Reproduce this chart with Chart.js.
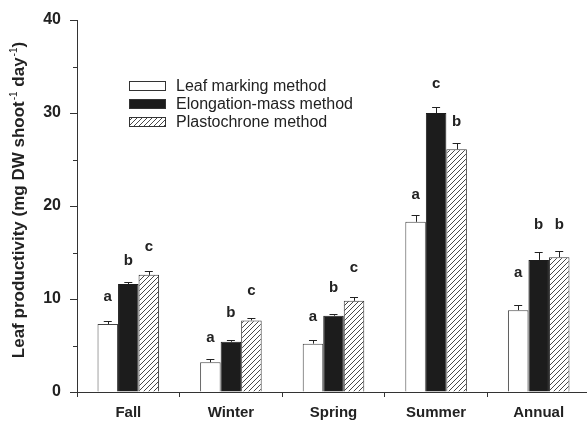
<!DOCTYPE html>
<html>
<head>
<meta charset="utf-8">
<script src="https://cdn.jsdelivr.net/npm/chart.js@4"></script>
<style>
    html, body { margin: 0; padding: 0; background: #fff; overflow: hidden; }
</style>
</head>
<body>
<canvas id="myChart" width="600" height="424"></canvas>
<script>
// data
const categories = ["Fall", "Winter", "Spring", "Summer", "Annual"];
const seriesNames = ["Leaf marking method", "Elongation-mass method", "Plastochrone method"];

const leafMarking = [7.3, 3.2, 5.2, 18.3, 8.8];
const leafMarkingErr = [0.3, 0.3, 0.35, 0.7, 0.6];
const elongationMass = [11.6, 5.4, 8.2, 30.0, 14.2];
const elongationMassErr = [0.2, 0.2, 0.2, 0.6, 0.9];
const plastochrone = [12.6, 7.7, 9.8, 26.1, 14.5];
const plastochroneErr = [0.4, 0.3, 0.4, 0.7, 0.7];

// significance letters and the value they sit at
const leafMarkingLetters = ["a", "a", "a", "a", "a"];
const elongationMassLetters = ["b", "b", "b", "c", "b"];
const plastochroneLetters = ["c", "c", "c", "b", "b"];
const leafMarkingLetterAt = [10.2, 5.8, 8.1, 21.2, 12.8];
const elongationMassLetterAt = [14.1, 8.5, 11.2, 33.1, 18.0];
const plastochroneLetterAt = [15.6, 10.9, 13.3, 29.0, 18.0];

const yMin = 0, yMax = 40, yStep = 10;
const yMinorTicks = [5, 15, 25, 35];

const ink = "#222";
const canvas = document.getElementById("myChart");
const ctx = canvas.getContext("2d");

// diagonal hatch
const makeHatch = () => {
    const t = document.createElement("canvas");
    t.width = 5; t.height = 5;
    const g = t.getContext("2d");
    g.fillStyle = "#fff";
    g.fillRect(0, 0, 5, 5);
    g.strokeStyle = "#333";
    g.lineWidth = 0.9;
    g.beginPath();
    g.moveTo(-1, 6); g.lineTo(6, -1);
    g.moveTo(-1, 1); g.lineTo(1, -1);
    g.moveTo(4, 6); g.lineTo(6, 4);
    g.stroke();
    return ctx.createPattern(t, "repeat");
};
const hatch = makeHatch();

// error bars + letters
const extrasPlugin = {
    id: "extras",
    afterDatasetsDraw(chart) {
        const c = chart.ctx;
        const yScale = chart.scales.y;
        c.save();
        chart.data.datasets.forEach((ds, i) => {
            const meta = chart.getDatasetMeta(i);
            meta.data.forEach((bar, j) => {
                const yTop = bar.y;
                const yErr = yScale.getPixelForValue(ds.data[j] + ds.errors[j]);
                c.strokeStyle = ink;
                c.lineWidth = 1;
                c.beginPath();
                c.moveTo(Math.round(bar.x) + 0.5, yTop);
                c.lineTo(Math.round(bar.x) + 0.5, Math.round(yErr) + 0.5);
                c.moveTo(bar.x - 4, Math.round(yErr) + 0.5);
                c.lineTo(bar.x + 4, Math.round(yErr) + 0.5);
                c.stroke();

                c.fillStyle = ink;
                c.font = "bold 15px 'Liberation Sans', Arial, sans-serif";
                c.textAlign = "center";
                c.textBaseline = "middle";
                c.fillText(ds.letters[j], bar.x, yScale.getPixelForValue(ds.letterAt[j]));
            });
        });
        c.restore();
    },
    afterDraw(chart) {
        const c = chart.ctx;
        const yScale = chart.scales.y;
        const left = chart.chartArea.left;
        c.save();
        // minor y ticks
        c.strokeStyle = "#333";
        c.lineWidth = 1;
        c.beginPath();
        yMinorTicks.forEach((v) => {
            const y = Math.round(yScale.getPixelForValue(v)) + 0.5;
            c.moveTo(left - 4, y);
            c.lineTo(left, y);
        });
        c.stroke();

        // y title with superscripts
        const parts = [
            ["Leaf productivity (mg DW shoot", false],
            ["-1", true],
            [" day", false],
            ["-1", true],
            [")", false],
        ];
        const bigFont = "bold 17px 'Liberation Sans', Arial, sans-serif";
        const supFont = "10px 'Liberation Sans', Arial, sans-serif";
        let total = 0;
        parts.forEach(([t, sup]) => {
            c.font = sup ? supFont : bigFont;
            total += c.measureText(t).width + (sup ? 1 : 0);
        });
        c.translate(19, 200);
        c.rotate(-Math.PI / 2);
        c.fillStyle = ink;
        c.textAlign = "left";
        c.textBaseline = "middle";
        let x = -total / 2;
        parts.forEach(([t, sup]) => {
            c.font = sup ? supFont : bigFont;
            c.fillText(t, x + (sup ? 1 : 0), sup ? -5 : 0);
            x += c.measureText(t).width + (sup ? 1 : 0);
        });
        c.restore();

        // legend
        c.save();
        const lx = 129, ly = 81, rowH = 18, bw = 37, bh = 10;
        chart.data.datasets.forEach((ds, i) => {
            const y = ly + i * rowH;
            c.fillStyle = ds.backgroundColor;
            c.fillRect(lx, y, bw, bh);
            c.strokeStyle = "#333";
            c.lineWidth = 1;
            c.strokeRect(lx + 0.5, y + 0.5, bw - 1, bh - 1);
            c.fillStyle = ink;
            c.font = "16px 'Liberation Sans', Arial, sans-serif";
            c.textAlign = "left";
            c.textBaseline = "middle";
            c.fillText(ds.label, lx + bw + 10, y + bh / 2 + 1);
        });
        c.restore();
    },
};

new Chart(ctx, {
    type: "bar",
    data: {
        labels: categories,
        datasets: [
            {
                label: seriesNames[0],
                data: leafMarking,
                errors: leafMarkingErr,
                letters: leafMarkingLetters,
                letterAt: leafMarkingLetterAt,
                backgroundColor: "#ffffff",
                borderColor: "#444",
                borderWidth: 1,
            },
            {
                label: seriesNames[1],
                data: elongationMass,
                errors: elongationMassErr,
                letters: elongationMassLetters,
                letterAt: elongationMassLetterAt,
                backgroundColor: "#1c1c1c",
                borderColor: "#1c1c1c",
                borderWidth: 1,
            },
            {
                label: seriesNames[2],
                data: plastochrone,
                errors: plastochroneErr,
                letters: plastochroneLetters,
                letterAt: plastochroneLetterAt,
                backgroundColor: hatch,
                borderColor: "#333",
                borderWidth: 1,
            },
        ],
    },
    options: {
        responsive: false,
        animation: false,
        devicePixelRatio: 1,
        layout: { padding: { top: 20, right: 10, left: 0, bottom: 0 } },
        plugins: {
            legend: { display: false },
            tooltip: { enabled: false },
        },
        datasets: {
            bar: { barPercentage: 1.0, categoryPercentage: 0.6 },
        },
        scales: {
            x: {
                offset: true,
                grid: { offset: true, drawOnChartArea: false, tickLength: 5, color: "#333" },
                border: { color: "#333", width: 1 },
                ticks: {
                    color: ink,
                    font: { family: "'Liberation Sans', Arial, sans-serif", size: 15, weight: "bold" },
                    padding: 7,
                },
                afterFit: (scale) => { scale.height = 32; },
            },
            y: {
                min: yMin,
                max: yMax,
                grid: { drawOnChartArea: false, tickLength: 7, color: "#333" },
                border: { color: "#333", width: 1 },
                ticks: {
                    stepSize: yStep,
                    color: ink,
                    font: { family: "'Liberation Sans', Arial, sans-serif", size: 16, weight: "bold" },
                    padding: 9,
                },
                afterFit: (scale) => { scale.width = 77; },
            },
        },
    },
    plugins: [extrasPlugin],
});
</script>
</body>
</html>
